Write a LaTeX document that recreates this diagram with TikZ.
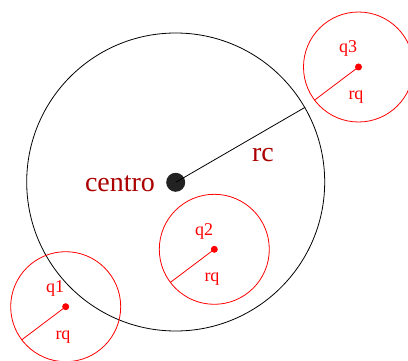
\documentclass[tikz,border=0pt]{standalone}
\usepackage{fontspec}
\setmainfont{Liberation Serif}
\definecolor{darkred}{RGB}{170,0,0}
\definecolor{qred}{RGB}{255,0,0}
\definecolor{dotgray}{RGB}{34,34,34}
\begin{document}
\begin{tikzpicture}[x=1pt,y=-1pt,
  bigc/.style={draw=black,line width=0.8pt,circle,inner sep=0pt,minimum size=298pt},
  qc/.style={draw=qred,line width=0.8pt,circle,inner sep=0pt,minimum size=110pt},
  qdot/.style={fill=qred,circle,inner sep=0pt,minimum size=7pt},
  cdot/.style={fill=dotgray,circle,inner sep=0pt,minimum size=19pt},
  biglab/.style={text=darkred,font=\fontsize{28}{30}\selectfont,inner sep=0pt},
  qlab/.style={text=qred,font=\fontsize{18}{20}\selectfont,inner sep=0pt},
  rline/.style={draw=qred,line width=0.8pt}]
\useasboundingbox (0,0) rectangle (408,361);
% big circle
\node[bigc] (C) at (175.7,182) {};
\node[cdot] (cd) at (175.7,182.3) {};
\draw[line width=0.8pt] (cd.center) -- (C.30.5);
\node[biglab] (rc) at (263,155) {rc};
\node[biglab] (centro) at (120,184) {centro};
% q1
\node[qc] (Q1) at (65.7,306.7) {};
\node[qdot] (d1) at (65.7,306.7) {};
\draw[rline] (d1.center) -- (Q1.217);
\node[qlab] (q1) at (55,288) {q1};
\node[qlab] (r1) at (63,337) {rq};
% q2
\node[qc] (Q2) at (214.3,249.3) {};
\node[qdot] (d2) at (214.3,249.3) {};
\draw[rline] (d2.center) -- (Q2.217);
\node[qlab] (q2) at (204,231) {q2};
\node[qlab] (r2) at (212,279) {rq};
% q3
\node[qc] (Q3) at (358.5,67) {};
\node[qdot] (d3) at (358.5,67) {};
\draw[rline] (d3.center) -- (Q3.217);
\node[qlab] (q3) at (348,48) {q3};
\node[qlab] (r3) at (356,97) {rq};
\end{tikzpicture}
\end{document}
